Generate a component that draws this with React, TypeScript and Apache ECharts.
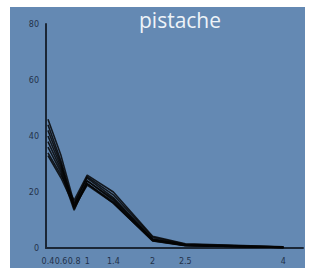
import React, { useEffect, useRef } from "react";
import * as echarts from "echarts";

const xValues = [0.4, 0.6, 0.8, 1, 1.4, 2, 2.5, 4];
const xTickLabels = ["0.4", "0.6", "0.8", "1", "1.4", "2", "2.5", "4"];
const yTickLabels = [0, 20, 40, 60, 80];

const s1 = [46, 33, 16, 25, 18, 3.2, 1.2, 0.3];
const s2 = [44, 31, 15, 24, 17, 3, 1.0, 0.2];
const s3 = [42, 30, 14, 23, 16.5, 2.8, 0.9, 0.2];
const s4 = [40, 29, 15.5, 25.5, 19, 3.8, 1.3, 0.3];
const s5 = [38, 28, 14.5, 22.5, 16, 2.5, 0.8, 0.2];
const s6 = [36, 27, 13.5, 24, 17.5, 3.1, 1.0, 0.2];
const s7 = [34, 26, 17, 26, 20, 4.2, 1.5, 0.4];
const s8 = [33, 25, 15, 23, 16, 2.6, 0.9, 0.2];
const allSeries = [s1, s2, s3, s4, s5, s6, s7, s8];

export default function App() {
  const ref = useRef<HTMLDivElement>(null);
  useEffect(() => {
    if (!ref.current) return;
    const chart = echarts.init(ref.current, undefined, { renderer: "svg" });
    const labelMap: Record<number, string> = {};
    xTickLabels.forEach((t) => {
      labelMap[Math.round(parseFloat(t) * 100)] = t;
    });
    chart.setOption({
      animation: false,
      backgroundColor: "#ffffff",
      title: {
        text: "pistache",
        left: 139,
        top: 9,
        padding: 0,
        textStyle: {
          color: "#eef3f8",
          fontSize: 21,
          fontWeight: "normal",
          fontFamily: "Open Sans",
        },
      },
      graphic: [
        {
          type: "rect",
          z: -10,
          silent: true,
          shape: { x: 10, y: 7, width: 295, height: 270 },
          style: { fill: "#6489b3" },
        },
      ],
      grid: { left: 46, right: 9, top: 24, bottom: 20, containLabel: false },
      xAxis: {
        type: "value",
        min: 0.37,
        max: 4.3,
        interval: 0.01,
        axisLine: { show: true, lineStyle: { color: "#1b2736", width: 2 } },
        axisTick: { show: false },
        splitLine: { show: false },
        axisLabel: {
          color: "#23324a",
          fontSize: 8,
          margin: 9,
          fontFamily: "DejaVu Sans",
          showMinLabel: false,
          showMaxLabel: false,
          formatter: (v: number) => labelMap[Math.round(v * 100)] || "",
        },
      },
      yAxis: {
        type: "value",
        min: yTickLabels[0],
        max: yTickLabels[yTickLabels.length - 1],
        interval: 20,
        axisLine: { show: true, lineStyle: { color: "#1b2736", width: 2 } },
        axisTick: { show: false },
        splitLine: { show: false },
        axisLabel: {
          color: "#23324a",
          fontSize: 8,
          margin: 7,
          fontFamily: "DejaVu Sans",
        },
      },
      series: allSeries.map((s, i) => ({
        name: "s" + (i + 1),
        type: "line",
        symbol: "none",
        lineStyle: { color: "#050505", width: 1.6, opacity: 0.85 },
        data: s.map((y, j) => [xValues[j], y]),
      })),
    });
    return () => chart.dispose();
  }, []);
  return (
    <div
      ref={ref}
      style={{ position: "absolute", left: 0, top: 0, width: 312, height: 268 }}
    />
  );
}
